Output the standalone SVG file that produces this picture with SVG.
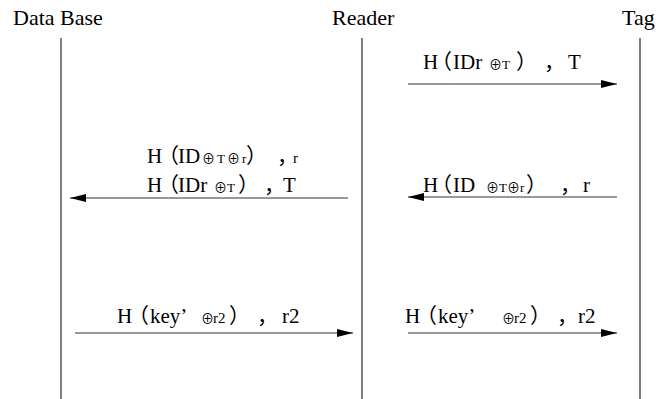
<svg xmlns="http://www.w3.org/2000/svg" width="659" height="399" viewBox="0 0 659 399">
<style>
text{font-family:"Liberation Serif","Noto Sans CJK SC",serif;fill:#000}
.hd{font-size:22px}
.lb{font-size:21px}
.s{font-size:13px}
.m{font-size:15px}
.life{stroke:#555;stroke-width:1.5}
.msg{stroke:#777;stroke-width:1.3;fill:none}
</style>
<defs>
<marker id="ah" viewBox="0 0 16 10" refX="16" refY="5" markerWidth="16" markerHeight="10" markerUnits="userSpaceOnUse" orient="auto">
<path d="M0,1 L16,5 L0,9 Z" fill="#000"/>
</marker>
</defs>
<g id="db"><text class="hd" x="13" y="25">Data Base</text><line class="life" x1="61" y1="38" x2="61" y2="399"/></g>
<g id="reader"><text class="hd" x="332" y="25">Reader</text><line class="life" x1="362" y1="38" x2="362" y2="399"/></g>
<g id="tag"><text class="hd" x="622" y="25">Tag</text><line class="life" x1="640" y1="38" x2="640" y2="399"/></g>
<g id="connectors">
<line class="msg" x1="408" y1="84" x2="617" y2="84" marker-end="url(#ah)"/>
<line class="msg" x1="348" y1="198" x2="70" y2="198" marker-end="url(#ah)"/>
<line class="msg" x1="617" y1="197" x2="408" y2="197" marker-end="url(#ah)"/>
<line class="msg" x1="75" y1="333" x2="353" y2="333" marker-end="url(#ah)"/>
<line class="msg" x1="408" y1="333" x2="617" y2="333" marker-end="url(#ah)"/>
</g>
<g id="labels">
<text class="lb" y="69"><tspan x="423">H</tspan><tspan x="431">（</tspan><tspan x="453">IDr</tspan><tspan class="s" x="489">⊕T</tspan><tspan x="516">）</tspan><tspan x="544">，</tspan><tspan x="568">T</tspan></text>
<text class="lb" y="163"><tspan x="147">H</tspan><tspan x="158">（</tspan><tspan x="178">ID</tspan><tspan class="s" x="202" letter-spacing="2">⊕T⊕r</tspan><tspan x="246">）</tspan><tspan x="277">，</tspan><tspan class="m" x="293">r</tspan></text>
<text class="lb" y="192"><tspan x="147">H</tspan><tspan x="158">（</tspan><tspan x="178">IDr</tspan><tspan class="s" x="214">⊕T</tspan><tspan x="238">）</tspan><tspan x="264">，</tspan><tspan x="283">T</tspan></text>
<text class="lb" y="192"><tspan x="423">H</tspan><tspan x="431">（</tspan><tspan x="453">ID</tspan><tspan class="s" x="486">⊕T⊕r</tspan><tspan x="526">）</tspan><tspan x="560">，</tspan><tspan x="583">r</tspan></text>
<text class="lb" y="323"><tspan x="117">H</tspan><tspan x="128">（</tspan><tspan x="150">key’</tspan><tspan class="s" x="201">⊕</tspan><tspan class="m" x="213">r2</tspan><tspan x="229">）</tspan><tspan x="257">，</tspan><tspan x="282">r2</tspan></text>
<text class="lb" y="323"><tspan x="405">H</tspan><tspan x="416">（</tspan><tspan x="438">key’</tspan><tspan class="s" x="502">⊕</tspan><tspan class="m" x="514">r2</tspan><tspan x="530">）</tspan><tspan x="557">，</tspan><tspan x="578">r2</tspan></text>
</g>
</svg>
